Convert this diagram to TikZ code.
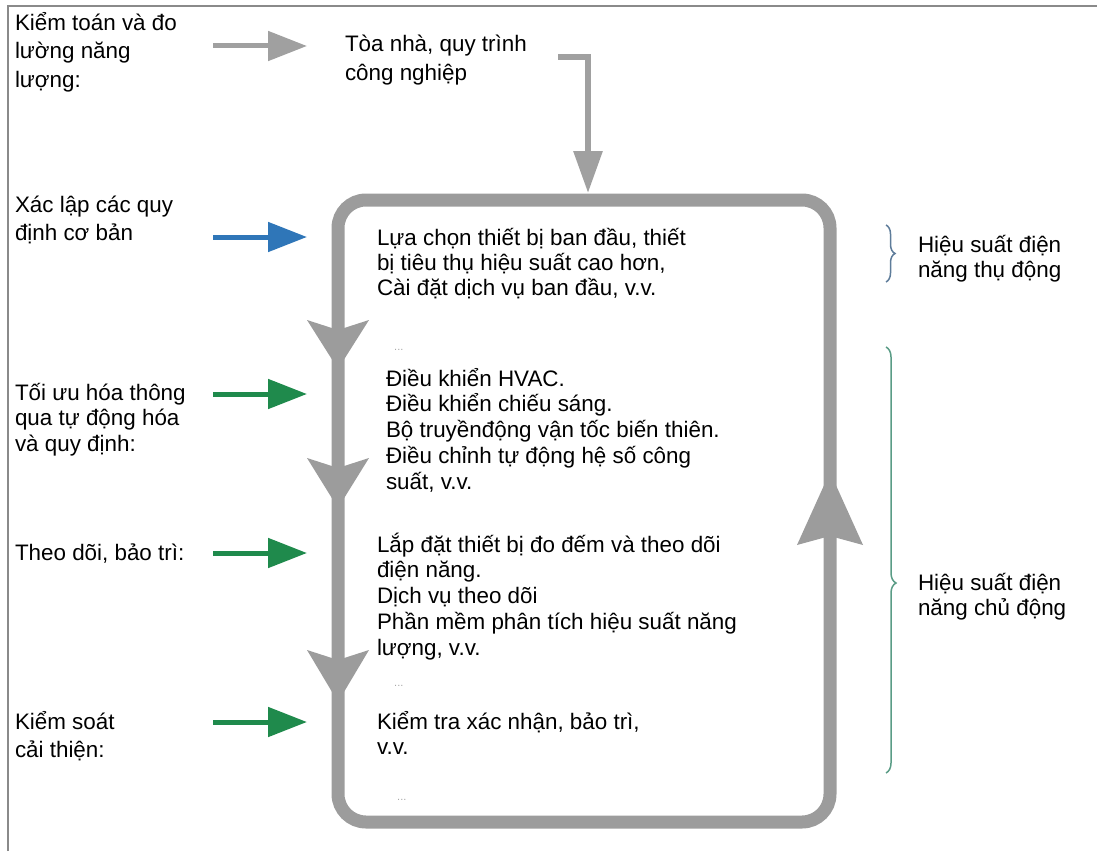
\documentclass[tikz,border=0pt]{standalone}
\usepackage{fontspec}
\setmainfont{Liberation Sans}
\usetikzlibrary{arrows.meta,decorations.pathreplacing}
\definecolor{loopgray}{HTML}{9C9C9C}
\definecolor{arrgray}{HTML}{A0A0A0}
\definecolor{arrblue}{HTML}{2F76B8}
\definecolor{arrgreen}{HTML}{1F8A4C}
\definecolor{braceblue}{HTML}{5E7C9A}
\definecolor{bracegreen}{HTML}{5A9C86}
\definecolor{framegray}{HTML}{8A8A8A}
\definecolor{dotgray}{HTML}{A8A8A8}
\newcommand{\mystrut}{\rule{0pt}{22pt}}
\begin{document}
\begin{tikzpicture}[x=1pt,y=-1pt,
  lbl/.style={anchor=north west, inner sep=0pt, outer sep=0pt, align=left, text=black},
  sp25/.style={font=\fontsize{22.4}{25}\selectfont},
  sp26/.style={font=\fontsize{22.4}{25.8}\selectfont},
  sp28/.style={font=\fontsize{22.4}{28.5}\selectfont},
  sidearrow/.style={line width=5pt, -{Triangle[length=39pt,width=29pt]}},
  loopline/.style={draw=loopgray, line width=13pt, rounded corners=28pt},
  loophead/.style={fill=loopgray},
  dots/.style={anchor=base west, inner sep=0pt, text=dotgray, font=\fontsize{11}{11}\selectfont},
  bracestyle/.style={decorate, line width=1.5pt},
]
\useasboundingbox (0,0) rectangle (1097,851);
% frame
\draw[framegray, line width=2.5pt] (8,851) -- (8,6) -- (1097,6);

% main loop
\draw[loopline] (338,200) rectangle (830,822);
% down arrowheads on left side
\fill[loophead] (307,320) -- (338,330) -- (369,320) -- (338,369) -- cycle;
\fill[loophead] (307,458) -- (338,468) -- (369,458) -- (338,508) -- cycle;
\fill[loophead] (307,650) -- (338,660) -- (369,650) -- (338,702) -- cycle;
% up arrowhead on right side
\fill[loophead] (797,545) -- (830,536) -- (863,545) -- (830,472) -- cycle;

% left labels
\node[lbl, sp28] (kiemtoan) at (15,30-22) {\mystrut Kiểm toán và đo\\lường năng\\lượng:};
\node[lbl, sp28] (xaclap) at (15,212-22) {\mystrut Xác lập các quy\\định cơ bản};
\node[lbl, sp26] (toiuu) at (15,400-22) {\mystrut Tối ưu hóa thông\\qua tự động hóa\\và quy định:};
\node[lbl, sp26] (theodoi) at (15,560-22) {\mystrut Theo dõi, bảo trì:};
\node[lbl, sp28] (kiemsoat) at (15,729-22) {\mystrut Kiểm soát\\cải thiện:};

% top text
\node[lbl, sp28] (toanha) at (345,52-22) {\mystrut Tòa nhà, quy trình\\công nghiệp};

% box texts
\node[lbl, sp25] (p1) at (377,245-22) {\mystrut Lựa chọn thiết bị ban đầu, thiết\\bị tiêu thụ hiệu suất cao hơn,\\Cài đặt dịch vụ ban đầu, v.v.};
\node[lbl, sp26] (p2) at (386,386-22) {\mystrut Điều khiển HVAC.\\Điều khiển chiếu sáng.\\Bộ truyềnđộng vận tốc biến thiên.\\Điều chỉnh tự động hệ số công\\suất, v.v.};
\node[lbl, sp26] (p3) at (377,552-22) {\mystrut Lắp đặt thiết bị đo đếm và theo dõi\\điện năng.\\Dịch vụ theo dõi\\Phần mềm phân tích hiệu suất năng\\lượng, v.v.};
\node[lbl, sp26] (p4) at (377,729-22) {\mystrut Kiểm tra xác nhận, bảo trì,\\v.v.};

% small dots
\node[dots] (d1) at (394,350) {...};
\node[dots] (d2) at (394,686) {...};
\node[dots] (d3) at (397,800) {...};

% right labels
\node[lbl, sp25] (thudong) at (918,252-22) {\mystrut Hiệu suất điện\\năng thụ động};
\node[lbl, sp25] (chudong) at (918,590-22) {\mystrut Hiệu suất điện\\năng chủ động};

% side arrows
\coordinate (a1s) at (213,46);  \coordinate (a1e) at (307,46);
\coordinate (a2s) at (213,237); \coordinate (a2e) at (307,237);
\coordinate (a3s) at (213,394); \coordinate (a3e) at (307,394);
\coordinate (a4s) at (213,553); \coordinate (a4e) at (307,553);
\coordinate (a5s) at (213,722); \coordinate (a5e) at (307,722);
\draw[sidearrow, arrgray] (a1s) -- (a1e);
\draw[sidearrow, arrblue] (a2s) -- (a2e);
\draw[sidearrow, arrgreen] (a3s) -- (a3e);
\draw[sidearrow, arrgreen] (a4s) -- (a4e);
\draw[sidearrow, arrgreen] (a5s) -- (a5e);

% top bent connector into the loop
\coordinate (tcs) at (558,57);
\coordinate (tcb) at (588,57);
\coordinate (tce) at (588,193);
\draw[arrgray, line width=6pt, -{Triangle[length=42pt,width=28pt]}] (tcs) -- (tcb) -- (tce);

% braces
\coordinate (b1t) at (886,225); \coordinate (b1b) at (886,282);
\coordinate (b2t) at (886,347); \coordinate (b2b) at (886,773);
\draw[bracestyle, braceblue, decoration={brace, amplitude=9pt}] (b1t) -- (b1b);
\draw[bracestyle, bracegreen, decoration={brace, amplitude=10pt, aspect=0.554}] (b2t) -- (b2b);
\end{tikzpicture}
\end{document}
